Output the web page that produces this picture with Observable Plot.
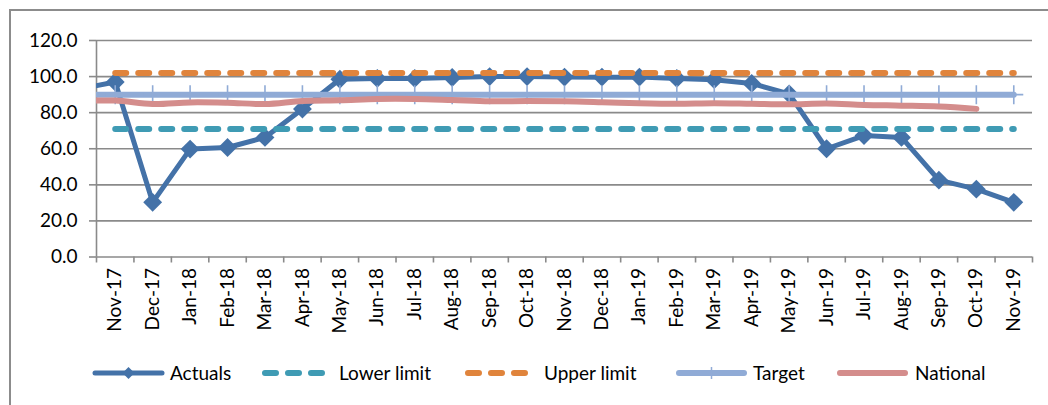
<!DOCTYPE html>
<html><head><meta charset="utf-8">
<script src="https://cdn.jsdelivr.net/npm/d3@7"></script>
<script src="https://cdn.jsdelivr.net/npm/@observablehq/plot@0.6"></script>
<style>
body{margin:0;background:#fff;font-family:Lato,sans-serif;}
#wrap{position:relative;width:1048px;height:405px;overflow:hidden;background:#fff}
#frame{position:absolute;left:9px;top:9px;width:1100px;height:500px;border-left:2px solid #8c8c8c;border-top:2px solid #8c8c8c;}
#chart{position:absolute;left:0;top:0}
#legend{position:absolute;left:0;top:358px;}
</style></head><body>
<div id="wrap"><div id="frame"></div><div id="chart"></div><svg id="legend" width="1048" height="30"></svg></div>
<script>
// ---- data ----
const months = ["Nov-17","Dec-17","Jan-18","Feb-18","Mar-18","Apr-18","May-18","Jun-18","Jul-18","Aug-18","Sep-18","Oct-18","Nov-18","Dec-18","Jan-19","Feb-19","Mar-19","Apr-19","May-19","Jun-19","Jul-19","Aug-19","Sep-19","Oct-19","Nov-19"];
// value of the month before the first shown month (only its connecting segment is visible)
const leadActual = 93, leadTarget = 90, leadNational = 86.5;
const actuals    = [97, 30.3, 59.8, 60.7, 66.3, 82, 98.5, 99, 99, 99.5, 100, 100, 99.7, 99.7, 99.7, 99, 98.3, 96.2, 90.4, 60, 67.3, 66.3, 42.6, 37.6, 30.3];
const lowerLimit = [71, 71, 71, 71, 71, 71, 71, 71, 71, 71, 71, 71, 71, 71, 71, 71, 71, 71, 71, 71, 71, 71, 71, 71, 71];
const upperLimit = [102, 102, 102, 102, 102, 102, 102, 102, 102, 102, 102, 102, 102, 102, 102, 102, 102, 102, 102, 102, 102, 102, 102, 102, 102];
const target     = [90, 90, 90, 90, 90, 90, 90, 90, 90, 90, 90, 90, 90, 90, 90, 90, 90, 90, 90, 90, 90, 90, 90, 90, 90];
const national   = [86.7, 84.8, 85.7, 85.5, 84.8, 86.5, 86.9, 87.6, 87.6, 87, 86.3, 86.4, 86.3, 85.8, 85.2, 84.9, 85.2, 84.9, 84.6, 85.1, 84.3, 83.9, 83.4, 82.1, null];
const yTicks = [0, 20, 40, 60, 80, 100, 120];
const seriesNames = ["Actuals","Lower limit","Upper limit","Target","National"];

// ---- styles ----
const C = {actuals:"#4472a8", lower:"#3f9bb4", upper:"#e0843c", target:"#90abd6", national:"#d48d8c", grid:"#8a8a8a"};
const FONT = "Lato, sans-serif";

const rowsOf = (arr, lead) => {
  const r = arr.map((v, i) => ({i, v}));
  if (lead !== undefined) r.unshift({i: -1, v: lead});
  return r.filter(d => d.v != null);
};
const idx = d3.range(months.length);
const bounds = d3.range(months.length + 1).map(k => k - 0.5);

const plusSymbol = {draw(ctx, size){ const r = Math.sqrt(size / Math.PI); ctx.moveTo(-r,0); ctx.lineTo(r,0); ctx.moveTo(0,-r); ctx.lineTo(0,r); }};

const chart = Plot.plot({
  width: 1048, height: 345,
  marginLeft: 96, marginRight: 16, marginTop: 40, marginBottom: 88.5,
  style: {fontFamily: FONT, fontSize: "19px", color: "#000", background: "transparent"},
  x: {type: "linear", domain: [-0.5, months.length - 0.5], axis: null},
  y: {domain: [0, 120], axis: null},
  marks: [
    Plot.gridY(yTicks.filter(t => t > 0), {stroke: C.grid, strokeOpacity: 1, strokeWidth: 1.6}),
    Plot.ruleY([0], {stroke: C.grid, strokeWidth: 1.6}),
    Plot.ruleX([-0.5], {stroke: C.grid, strokeWidth: 1.6}),
    Plot.axisY({ticks: yTicks, tickFormat: d3.format(".1f"), tickSize: 7, tickPadding: 12, stroke: C.grid, strokeWidth: 1.6, fill: "#000", label: null, fontSize: 19}),
    Plot.axisX({ticks: bounds, tickFormat: () => "", tickSize: 6, stroke: C.grid, strokeWidth: 1.6, label: null}),
    Plot.axisX({ticks: idx, tickFormat: i => months[i], tickRotate: -90, tickSize: 0, tickPadding: 11, fill: "#000", label: null, fontSize: 19}),
    // Actuals
    Plot.line(rowsOf(actuals, leadActual), {x: "i", y: "v", stroke: C.actuals, strokeWidth: 5, clip: true}),
    Plot.dot(rowsOf(actuals), {x: "i", y: "v", symbol: "diamond2", r: 8.5, fill: C.actuals, clip: true}),
    // Lower limit
    Plot.line(rowsOf(lowerLimit), {x: "i", y: "v", stroke: C.lower, strokeWidth: 6, strokeDasharray: "11,12", strokeLinecap: "round"}),
    // Upper limit
    Plot.line(rowsOf(upperLimit), {x: "i", y: "v", stroke: C.upper, strokeWidth: 6, strokeDasharray: "11,12", strokeLinecap: "round"}),
    // Target
    Plot.line(rowsOf(target, leadTarget), {x: "i", y: "v", stroke: C.target, strokeWidth: 6, clip: true}),
    Plot.dot(rowsOf(target), {x: "i", y: "v", symbol: plusSymbol, r: 9.5, stroke: C.target, strokeWidth: 1.6, fill: "none"}),
    // National
    Plot.line(rowsOf(national, leadNational), {x: "i", y: "v", stroke: C.national, strokeWidth: 6, curve: "catmull-rom", clip: true})
  ]
});
document.getElementById("chart").appendChild(chart);

// ---- legend ----
const leg = d3.select("#legend");
const cy = 15;
const items = [
  {name: seriesNames[0], x0: 95, x1: 162, tx: 170, color: C.actuals, kind: "diamond"},
  {name: seriesNames[1], x0: 265, x1: 322, tx: 339, color: C.lower, kind: "dash"},
  {name: seriesNames[2], x0: 468, x1: 525, tx: 544, color: C.upper, kind: "dash"},
  {name: seriesNames[3], x0: 679, x1: 744, tx: 753, color: C.target, kind: "plus"},
  {name: seriesNames[4], x0: 840, x1: 905, tx: 915, color: C.national, kind: "line"}
];
items.forEach(it => {
  const g = leg.append("g");
  g.append("line").attr("x1", it.x0).attr("x2", it.x1).attr("y1", cy).attr("y2", cy)
    .attr("stroke", it.color).attr("stroke-width", it.kind === "diamond" ? 5 : 6)
    .attr("stroke-linecap", "round")
    .attr("stroke-dasharray", it.kind === "dash" ? "11,12" : null);
  const mx = (it.x0 + it.x1) / 2;
  if (it.kind === "diamond") g.append("path").attr("d", `M${mx},${cy-6}L${mx+6},${cy}L${mx},${cy+6}L${mx-6},${cy}Z`).attr("fill", it.color);
  if (it.kind === "plus") g.append("line").attr("x1", mx).attr("x2", mx).attr("y1", cy-6).attr("y2", cy+6).attr("stroke", it.color).attr("stroke-width", 1.5);
  g.append("text").attr("x", it.tx).attr("y", cy).attr("dy", "0.35em").attr("font-family", FONT).attr("font-size", 19).attr("fill", "#000").text(it.name);
});
</script>
</body></html>
